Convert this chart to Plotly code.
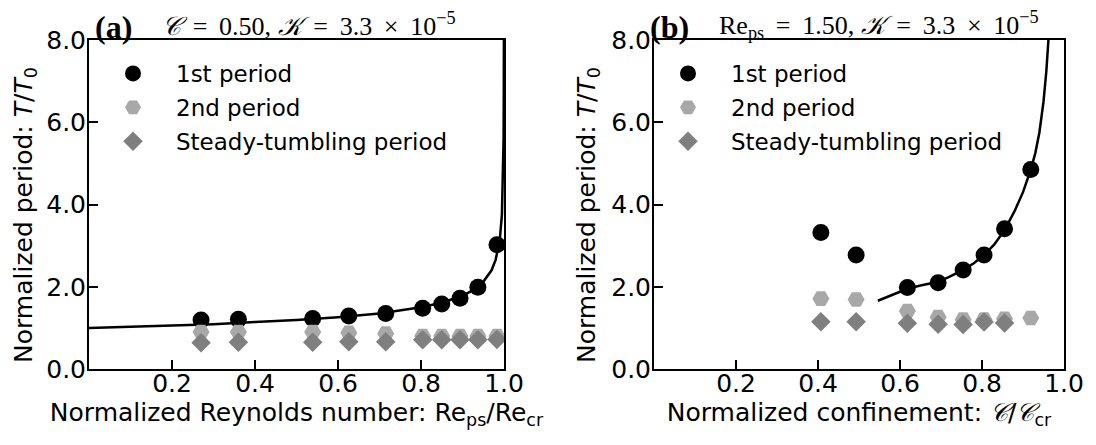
import plotly.graph_objects as go

# ---------------- data: panel (a) ----------------
a_x = [0.27, 0.36, 0.539, 0.626, 0.715, 0.804, 0.85, 0.894, 0.937, 0.983]
a_first = [1.19, 1.21, 1.23, 1.29, 1.35, 1.48, 1.58, 1.72, 1.99, 3.02]
a_second = [0.90, 0.90, 0.90, 0.88, 0.86, 0.80, 0.80, 0.80, 0.80, 0.80]
a_steady = [0.64, 0.65, 0.65, 0.66, 0.66, 0.71, 0.71, 0.71, 0.71, 0.72]
a_fit_x = [0.0, 0.1, 0.2, 0.3, 0.4, 0.5, 0.6, 0.7, 0.8, 0.85, 0.9, 0.93, 0.95,
           0.97, 0.98, 0.99, 0.995, 0.998, 0.999, 0.9995, 0.9998]
a_fit_y = [1.00, 1.03, 1.06, 1.09, 1.14, 1.19, 1.26, 1.35, 1.50, 1.61, 1.78, 1.94,
           2.12, 2.40, 2.66, 3.16, 3.76, 4.73, 5.62, 6.69, 8.4]

# ---------------- data: panel (b) ----------------
b_x = [0.407, 0.493, 0.618, 0.693, 0.754, 0.805, 0.855, 0.919]
b_first = [3.32, 2.77, 1.98, 2.10, 2.41, 2.77, 3.41, 4.85]
b_second = [1.71, 1.69, 1.41, 1.26, 1.20, 1.20, 1.22, 1.24]
b_steady_x = [0.407, 0.493, 0.618, 0.693, 0.754, 0.805, 0.855]
b_steady = [1.15, 1.15, 1.11, 1.09, 1.08, 1.14, 1.12]
b_fit_x = [0.546, 0.58, 0.618, 0.65, 0.693, 0.72, 0.754, 0.78, 0.805, 0.83, 0.855,
           0.88, 0.9, 0.919, 0.93, 0.94, 0.95, 0.957, 0.963, 0.966]
b_fit_y = [1.66, 1.80, 1.95, 2.03, 2.12, 2.24, 2.41, 2.57, 2.77, 3.03, 3.38,
           3.85, 4.30, 4.85, 5.25, 5.75, 6.50, 7.25, 8.0, 8.6]

x_ticks = [0.2, 0.4, 0.6, 0.8, 1.0]
x_ticklabels = ["0.2", "0.4", "0.6", "0.8", "1.0"]
y_ticks = [0, 2, 4, 6, 8]
y_ticklabels = ["0.0", "2.0", "4.0", "6.0", "8.0"]

BLACK = "black"
LIGHT = "#a8a8a8"
DARK = "#7f7f7f"
FONT = "DejaVu Sans"

# The page body has an 8 px margin, so the figure is sized to fill the rest
W, H = 1088, 437
OFF = 8


def px(sx):
    return (sx - OFF) / W


def py(sy):
    return 1 - (sy - OFF) / H


fig = go.Figure()


def add_panel(xa, ya, legend, fx, fy, x1, y1, x2, y2, xs, ys, tag):
    fig.add_trace(go.Scatter(x=fx, y=fy, mode="lines", line=dict(color=BLACK, width=2.5),
                             xaxis=xa, yaxis=ya, showlegend=False, hoverinfo="skip"))
    fig.add_trace(go.Scatter(x=x1, y=y1, mode="markers", name="1st period",
                             legendgroup=tag + "1",
                             marker=dict(symbol="circle", size=17, color=BLACK),
                             xaxis=xa, yaxis=ya, legend=legend))
    fig.add_trace(go.Scatter(x=x2, y=y2, mode="markers", name="2nd period",
                             legendgroup=tag + "2",
                             marker=dict(symbol="hexagon2", size=17, color=LIGHT),
                             xaxis=xa, yaxis=ya, legend=legend))
    fig.add_trace(go.Scatter(x=xs, y=ys, mode="markers", name="Steady-tumbling period",
                             legendgroup=tag + "3",
                             marker=dict(symbol="diamond", size=15, color=DARK),
                             xaxis=xa, yaxis=ya, legend=legend))


add_panel("x", "y", "legend", a_fit_x, a_fit_y, a_x, a_first, a_x, a_second, a_x, a_steady, "a")
add_panel("x2", "y2", "legend2", b_fit_x, b_fit_y, b_x, b_first, b_x, b_second, b_steady_x, b_steady, "b")

axis_common = dict(showline=True, linecolor=BLACK, linewidth=2, mirror=True,
                   ticks="inside", ticklen=9, tickwidth=2, tickcolor=BLACK,
                   showgrid=False, zeroline=False, automargin=False,
                   tickfont=dict(family=FONT, size=25, color=BLACK))
xaxis_extra = dict(ticklabelstandoff=-9)
yaxis_extra = dict(ticklabelstandoff=-4)

xtitle_font = dict(family=FONT, size=25, color=BLACK)
ytitle_font = dict(family=FONT, size=25, color=BLACK)
legend_font = dict(family=FONT, size=23, color=BLACK)

ydom = [py(369), py(40)]

fig.update_layout(
    width=W, height=H, margin=dict(l=0, r=0, t=0, b=0, autoexpand=False),
    plot_bgcolor="white", paper_bgcolor="white",
    xaxis=dict(domain=[px(89), px(504)], range=[0, 1.0], tickvals=x_ticks,
               ticktext=x_ticklabels, anchor="y",
               title=dict(text="Normalized Reynolds number: Re<sub>ps</sub>/Re<sub>cr</sub>",
                          font=xtitle_font, standoff=2),
               **axis_common, **xaxis_extra),
    yaxis=dict(domain=ydom, range=[0, 8], tickvals=y_ticks, ticktext=y_ticklabels,
               anchor="x", **axis_common, **yaxis_extra),
    xaxis2=dict(domain=[px(654), px(1064)], range=[0, 1.0], tickvals=x_ticks,
                ticktext=x_ticklabels, anchor="y2",
                title=dict(text="Normalized confinement: <i>𝒞</i>/<i>𝒞</i><sub>cr</sub>",
                           font=xtitle_font, standoff=2),
                **axis_common, **xaxis_extra),
    yaxis2=dict(domain=ydom, range=[0, 8], tickvals=y_ticks, ticktext=y_ticklabels,
                anchor="x2", **axis_common, **yaxis_extra),
    legend=dict(x=px(90), y=py(52), xanchor="left", yanchor="top",
                itemwidth=76, tracegroupgap=1,
                bgcolor="rgba(0,0,0,0)", font=legend_font),
    legend2=dict(x=px(645), y=py(52), xanchor="left", yanchor="top",
                 itemwidth=76, tracegroupgap=1,
                 bgcolor="rgba(0,0,0,0)", font=legend_font),
)

ytitle = "Normalized period: <i>T</i>/<i>T</i><sub>0</sub>"
for sx in (25, 588):
    fig.add_annotation(x=px(sx), y=py(215), xref="paper", yref="paper", xanchor="center",
                       yanchor="middle", showarrow=False, textangle=-90, text=ytitle,
                       font=ytitle_font)

TS = "\u2009"  # thin space, mimicking math spacing around operators
fig.add_annotation(x=px(94), y=py(8), xref="paper", yref="paper", xanchor="left",
                   yanchor="top", showarrow=False, text="<b>(a)</b>", borderpad=0,
                   font=dict(family="Liberation Serif", size=32, color=BLACK))
fig.add_annotation(x=px(160), y=py(25), xref="paper", yref="paper", xanchor="left",
                   yanchor="middle", showarrow=False,
                   text=f"<i>𝒞</i>{TS} ={TS} 0.50, <i>𝒦</i>{TS} ={TS} 3.3{TS} ×{TS} 10<sup>−5</sup>",
                   font=dict(family="Liberation Serif", size=26, color=BLACK))
fig.add_annotation(x=px(649), y=py(8), xref="paper", yref="paper", xanchor="left",
                   yanchor="top", showarrow=False, text="<b>(b)</b>", borderpad=0,
                   font=dict(family="Liberation Serif", size=32, color=BLACK))
fig.add_annotation(x=px(717), y=py(25), xref="paper", yref="paper", xanchor="left",
                   yanchor="middle", showarrow=False,
                   text=f"Re<sub>ps</sub>{TS} ={TS} 1.50, <i>𝒦</i>{TS} ={TS} 3.3{TS} ×{TS} 10<sup>−5</sup>",
                   font=dict(family="Liberation Serif", size=26, color=BLACK))

fig.write_html("out.html")
